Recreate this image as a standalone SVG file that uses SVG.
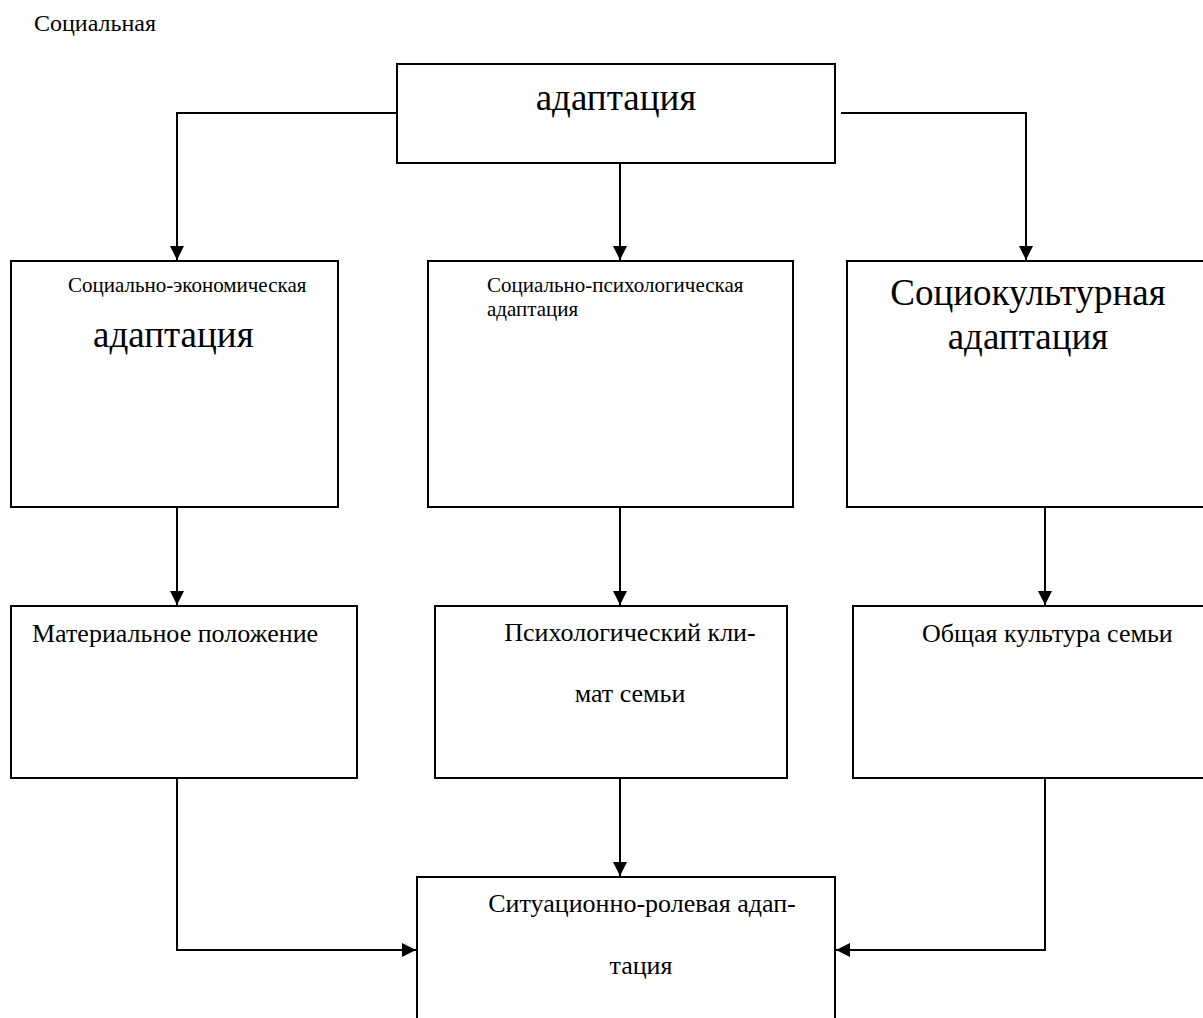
<svg xmlns="http://www.w3.org/2000/svg" width="1203" height="1018" viewBox="0 0 1203 1018">
<style>
.box{fill:#fff;stroke:#000;stroke-width:2}
.t{font-family:"Liberation Serif","Times New Roman",serif;fill:#000}
.s21{font-size:21px}.s26{font-size:26px}.s37{font-size:37px}
.c{fill:none;stroke:#000;stroke-width:2}
</style>
<defs>
<marker id="ah" markerUnits="userSpaceOnUse" markerWidth="14" markerHeight="14" viewBox="0 0 14 14" refX="14" refY="7" orient="auto">
<path d="M0,0 L14,7 L0,14 z" fill="#000"/>
</marker>
</defs>
<rect width="1203" height="1018" fill="#fff"/>
<text class="t s24" x="34" y="31" style="font-size:24px">Социальная</text>
<g id="connectors">
<path class="c" d="M396,113 H177 V260" marker-end="url(#ah)"/>
<path class="c" d="M620,163 V260" marker-end="url(#ah)"/>
<path class="c" d="M841,113 H1026 V260" marker-end="url(#ah)"/>
<path class="c" d="M177,507 V605" marker-end="url(#ah)"/>
<path class="c" d="M620,507 V605" marker-end="url(#ah)"/>
<path class="c" d="M1045,507 V605" marker-end="url(#ah)"/>
<path class="c" d="M620,778 V876" marker-end="url(#ah)"/>
<path class="c" d="M177,778 V950 H416" marker-end="url(#ah)"/>
<path class="c" d="M1045,778 V950 H836" marker-end="url(#ah)"/>
</g>
<g id="top">
<rect class="box" x="397" y="64" width="438" height="99"/>
<text class="t s37" x="616" y="110" text-anchor="middle">адаптация</text>
</g>
<g id="socio-economic">
<rect class="box" x="11" y="261" width="327" height="246"/>
<text class="t s21" x="68" y="292">Социально-экономическая</text>
<text class="t s37" x="93" y="347">адаптация</text>
</g>
<g id="socio-psych">
<rect class="box" x="428" y="261" width="365" height="246"/>
<text class="t s21" x="487" y="292">Социально-психологическая</text>
<text class="t s21" x="487" y="316">адаптация</text>
</g>
<g id="socio-cultural">
<rect class="box" x="847" y="261" width="365" height="246"/>
<text class="t s37" x="1028" y="305" text-anchor="middle">Социокультурная</text>
<text class="t s37" x="1028" y="349" text-anchor="middle">адаптация</text>
</g>
<g id="material">
<rect class="box" x="11" y="606" width="346" height="172"/>
<text class="t s26" x="32" y="642">Материальное положение</text>
</g>
<g id="psych-climate">
<rect class="box" x="435" y="606" width="352" height="172"/>
<text class="t s26" x="630" y="641" text-anchor="middle">Психологический кли-</text>
<text class="t s26" x="630" y="702" text-anchor="middle">мат семьи</text>
</g>
<g id="culture">
<rect class="box" x="853" y="606" width="360" height="172"/>
<text class="t s26" x="922" y="642">Общая культура семьи</text>
</g>
<g id="situational">
<rect class="box" x="417" y="877" width="418" height="160"/>
<text class="t s26" x="642" y="912" text-anchor="middle">Ситуационно-ролевая адап-</text>
<text class="t s26" x="641" y="974" text-anchor="middle">тация</text>
</g>
</svg>
